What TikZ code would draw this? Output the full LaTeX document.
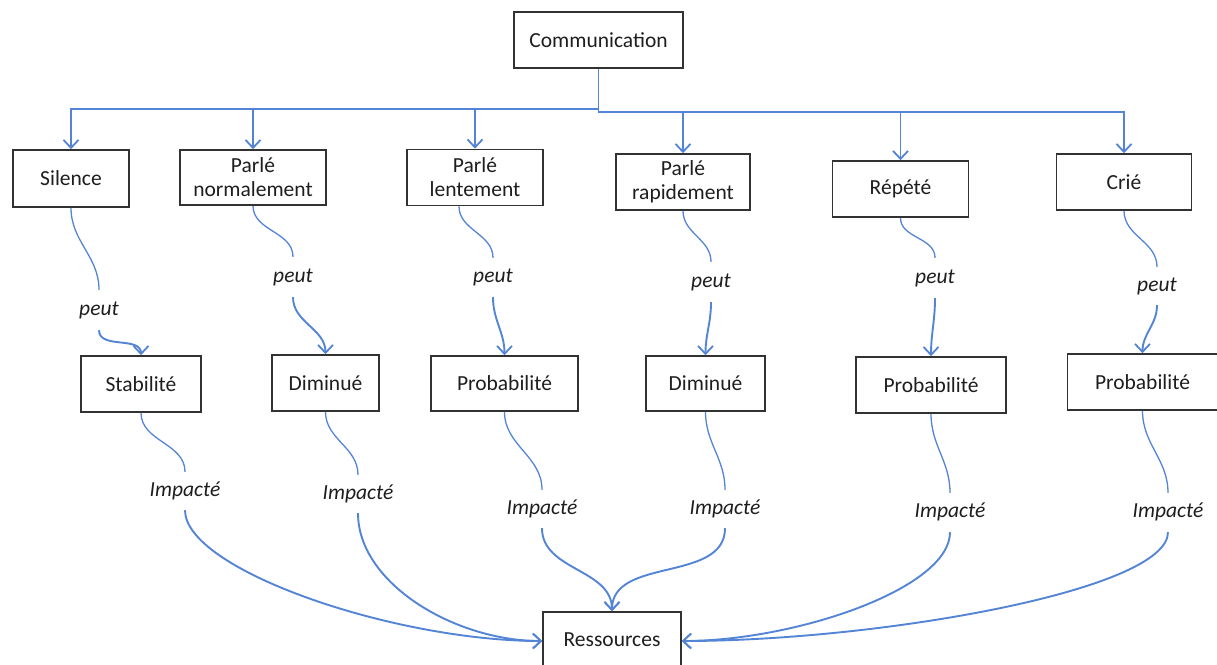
\documentclass[tikz,border=0pt]{standalone}
\usepackage{fontspec}
\setmainfont{Carlito}
\usetikzlibrary{arrows.meta}
\definecolor{linkblue}{RGB}{84,132,213}
\definecolor{boxline}{RGB}{50,50,50}
\definecolor{txt}{RGB}{30,30,30}
\begin{document}
\begin{tikzpicture}[x=1pt,y=-1pt,
  box/.style={draw=boxline,line width=1.6pt,fill=white,inner sep=0pt,align=center,
    text=txt,font=\fontsize{21.5}{24}\selectfont},
  lbl/.style={inner sep=0pt,minimum width=40pt,text=txt,text height=14pt,text depth=4pt,
    font=\fontsize{21.5}{24}\selectfont\itshape},
  tip/.style={-{Straight Barb[length=8pt,width=15pt,line width=1.8pt]}},
  bus/.style={draw=linkblue,line width=1.6pt},
  thin/.style={draw=linkblue,line width=1.3pt},
  thick/.style={draw=linkblue,line width=1.9pt},
]
\useasboundingbox (0,0) rectangle (1217,664);

% top
\node[box,minimum width=169pt,minimum height=56pt] (comm) at (598.5,40) {Communication};

% level 1
\node[box,minimum width=116pt,minimum height=57pt] (sil) at (71,178.5) {Silence};
\node[box,minimum width=146pt,minimum height=55pt] (pn)  at (253,177.5) {Parlé\\normalement};
\node[box,minimum width=136pt,minimum height=56pt] (pl)  at (475,177.5) {Parlé\\lentement};
\node[box,minimum width=134pt,minimum height=56pt] (pr)  at (683,182) {Parlé\\rapidement};
\node[box,minimum width=136pt,minimum height=56pt] (rep) at (900.5,189) {Répété};
\node[box,minimum width=135pt,minimum height=56pt] (cri) at (1124,182) {Crié};

% level 2
\node[box,minimum width=120pt,minimum height=56pt] (stab)  at (141,384) {Stabilité};
\node[box,minimum width=107pt,minimum height=56pt] (dim1)  at (325.5,383) {Diminué};
\node[box,minimum width=147pt,minimum height=55pt] (prob1) at (504.5,383.5) {Probabilité};
\node[box,minimum width=119pt,minimum height=55pt] (dim2)  at (705.5,383.5) {Diminué};
\node[box,minimum width=150pt,minimum height=56pt] (prob2) at (931,385) {Probabilité};
\node[box,minimum width=150pt,minimum height=56pt] (prob3) at (1142.5,382) {Probabilité};

% bottom
\node[box,minimum width=138pt,minimum height=56pt] (res) at (612,640) {Ressources};

% labels "peut"
\node[lbl,minimum height=40pt] (p1) at (99,310) {peut};
\node[lbl,minimum height=40pt] (p2) at (293,277) {peut};
\node[lbl,minimum height=39pt] (p3) at (493,277.5) {peut};
\node[lbl,minimum height=40pt] (p4) at (711,282) {peut};
\node[lbl,minimum height=40pt] (p5) at (935,278) {peut};
\node[lbl,minimum height=38pt] (p6) at (1157,286) {peut};

% labels "Impacté"
\node[lbl,minimum height=38pt] (i1) at (185,491) {Impacté};
\node[lbl,minimum height=38pt] (i2) at (358,494) {Impacté};
\node[lbl,minimum height=38pt] (i3) at (542,509) {Impacté};
\node[lbl,minimum height=38pt] (i4) at (725,509) {Impacté};
\node[lbl,minimum height=39pt] (i5) at (950,512.5) {Impacté};
\node[lbl,minimum height=39pt] (i6) at (1168,512.5) {Impacté};

% bus from Communication
\draw[bus,tip] (comm.south) -- ++(0,40) -| (sil.north);
\draw[bus,tip] (comm.south) -- ++(0,40) -| (pn.north);
\draw[bus,tip] (comm.south) -- ++(0,40) -| (pl.north);
\draw[bus,tip] (comm.south) -- ++(0,43) -| (pr.north);
\draw[bus,tip] (comm.south) -- ++(0,43) -| (rep.north);
\draw[bus,tip] (comm.south) -- ++(0,43) -| (cri.north);

% level 1 -> peut -> level 2
\draw[thin] (sil.south) to[out=-90,in=90] (p1.north);
\draw[thick,tip] (p1.south) to[out=-90,in=90] (stab.north);
\draw[thin] (pn.south) to[out=-90,in=90] (p2.north);
\draw[thick,tip] (p2.south) to[out=-90,in=90] (dim1.north);
\draw[thin] ([xshift=-16pt]pl.south) to[out=-90,in=90] (p3.north);
\draw[thick,tip] (p3.south) to[out=-90,in=90] (prob1.north);
\draw[thin] (pr.south) to[out=-90,in=90] (p4.north);
\draw[thick,tip] (p4.south) to[out=-90,in=90] (dim2.north);
\draw[thin] (rep.south) to[out=-90,in=90] (p5.north);
\draw[thick,tip] (p5.south) to[out=-90,in=90] (prob2.north);
\draw[thin] (cri.south) to[out=-90,in=90] (p6.north);
\draw[thick,tip] (p6.south) to[out=-90,in=90] (prob3.north);

% level 2 -> Impacté -> Ressources
\draw[thin] (stab.south) to[out=-90,in=90] (i1.north);
\draw[thick,tip] (i1.south) to[out=-90,in=180,out looseness=0.4,in looseness=1] ([yshift=-1pt]res.west);
\draw[thin] (dim1.south) to[out=-90,in=90] (i2.north);
\draw[thick,tip] (i2.south) to[out=-90,in=180,out looseness=0.8,in looseness=1] ([yshift=-1pt]res.west);
\draw[thin] (prob1.south) to[out=-90,in=90] (i3.north);
\draw[thick,tip] (i3.south) to[out=-90,in=90] (res.north);
\draw[thin] (dim2.south) to[out=-90,in=90] (i4.north);
\draw[thick,tip] (i4.south) to[out=-90,in=90] (res.north);
\draw[thin] (prob2.south) to[out=-90,in=90] (i5.north);
\draw[thick,tip] (i5.south) to[out=-90,in=0,out looseness=0.5,in looseness=1] ([yshift=-1pt]res.east);
\draw[thin] (prob3.south) to[out=-90,in=90] (i6.north);
\draw[thick,tip] (i6.south) to[out=-90,in=0,out looseness=0.3,in looseness=1] ([yshift=-1pt]res.east);
\end{tikzpicture}
\end{document}
